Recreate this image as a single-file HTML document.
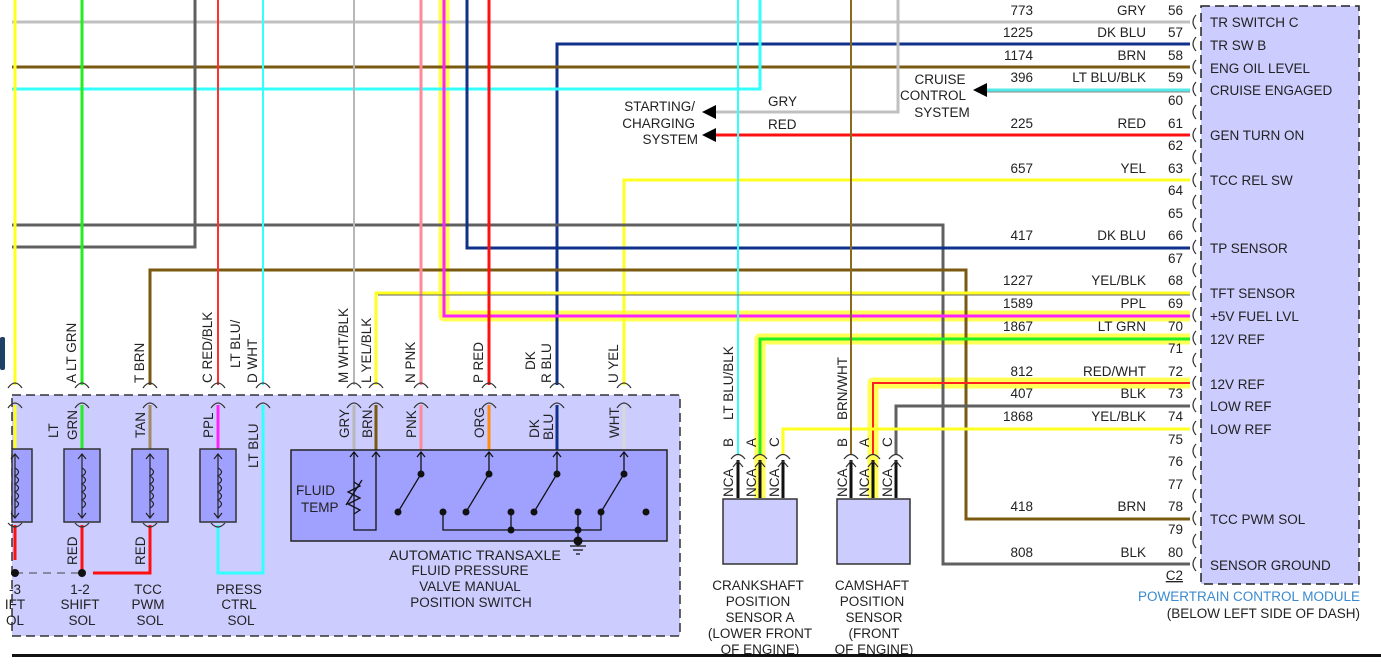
<!DOCTYPE html>
<html><head><meta charset="utf-8"><style>
html,body{margin:0;padding:0;background:#fff;}
svg{display:block;font-family:"Liberation Sans",Arial,sans-serif;font-size:13.5px;fill:#222;}
</style></head><body>
<svg width="1381" height="665" viewBox="0 0 1381 665" xmlns="http://www.w3.org/2000/svg">
<!-- boxes -->
<rect x="12" y="395" width="668" height="241" fill="#ccccff" stroke="#333" stroke-width="1.5" stroke-dasharray="9,5"/>
<rect x="1201" y="6" width="158" height="578" fill="#ccccff" stroke="#222" stroke-width="1.5" stroke-dasharray="9,5"/>
<rect x="0" y="337" width="5" height="33" rx="2" fill="#1e3f66"/>

<!-- yellow highlights -->
<g fill="none" stroke="#ffff55" stroke-width="11" stroke-linejoin="round">
<path d="M444,0 V316 H1190"/>
<path d="M760,498 V339 H1190"/>
<path d="M873,498 V383 H1190"/>
</g>

<!-- wires -->
<g fill="none" stroke-width="3">
<path d="M12,22 H1190" stroke="#c0c0c0"/>
<path d="M557,385 V44 H1190" stroke="#10308a"/>
<path d="M12,67 H1190" stroke="#7a5a10"/>
<path d="M12,89 H760 V0" stroke="#33ffff"/>
<path d="M898,0 V112 H712" stroke="#c0c0c0"/>
<path d="M712,135 H1190" stroke="#ff1010"/>
<path d="M986,90 H1190" stroke="#55e8e8"/>
<path d="M624,385 V180 H1190" stroke="#ffff22"/>
<path d="M12,225 H943 V564 H1190" stroke="#606060"/>
<path d="M12,247 H195 V0" stroke="#606060"/>
<path d="M467,0 V248 H1190" stroke="#10308a"/>
<path d="M150,385 V270 H966 V519 H1190" stroke="#7a5a10"/>
<path d="M376,385 V293 H1190" stroke="#ffff22"/>
<path d="M444,0 V316 H1190" stroke="#ff22ff"/>
<path d="M760,455 V339 H1190" stroke="#22ee22"/>
<path d="M873,455 V383 H1190" stroke="#ff2020" stroke-width="2"/>
<path d="M896,455 V406 H1190" stroke="#606060"/>
<path d="M783,455 V429 H1190" stroke="#ffff22"/>
<path d="M15,0 V385" stroke="#ffff22"/>
<path d="M82,0 V385" stroke="#22ee22"/>
<path d="M218,0 V385" stroke="#ff3030" stroke-width="2"/>
<path d="M263,0 V385" stroke="#33ffff" stroke-width="2"/>
<path d="M354,0 V385" stroke="#b8b8b8" stroke-width="2"/>
<path d="M421,0 V385" stroke="#ff8899"/>
<path d="M489,0 V385" stroke="#ff1010"/>
<path d="M738,0 V455" stroke="#33ffff" stroke-width="2"/>
<path d="M851,0 V455" stroke="#8a6a20" stroke-width="2"/>
</g>
<g fill="none" stroke-width="1">
<path d="M986,92 H1190" stroke="#888"/>
<path d="M378,295 H1190" stroke="#666"/>
</g>
<g fill="none" stroke-width="3">
<path d="M15,405 V450" stroke="#ffff22"/>
<path d="M82,405 V450" stroke="#22ee22"/>
<path d="M150,405 V450" stroke="#a08a60"/>
<path d="M218,405 V450" stroke="#ff22ff"/>
<path d="M263,405 V573 H218 V525" stroke="#33ffff"/>
<path d="M354,405 V452" stroke="#b8b8b8"/>
<path d="M376,405 V452" stroke="#7a5a10"/>
<path d="M421,405 V452" stroke="#ff8899"/>
<path d="M489,405 V452" stroke="#ff8c10"/>
<path d="M557,405 V452" stroke="#10308a"/>
<path d="M624,405 V452" stroke="#d8d8d8"/>
<path d="M15,525 V560" stroke="#ff1010"/>
<path d="M82,525 V570" stroke="#ff1010"/>
<path d="M93,573 H150 V525" stroke="#ff1010"/>
</g>
<path d="M15,573 H82" stroke="#444" stroke-width="1" stroke-dasharray="8,6"/>
<circle cx="15" cy="573" r="4" fill="#111"/><circle cx="82" cy="573" r="4" fill="#111"/>

<!-- connectors -->
<g fill="none" stroke="#333" stroke-width="1.2">
<path d="M8,388 Q15,378 22,388 M75,388 Q82,378 89,388 M143,388 Q150,378 157,388 M211,388 Q218,378 225,388 M256,388 Q263,378 270,388 M347,388 Q354,378 361,388 M369,388 Q376,378 383,388 M414,388 Q421,378 428,388 M482,388 Q489,378 496,388 M550,388 Q557,378 564,388 M617,388 Q624,378 631,388"/>
<path d="M8,408 Q15,398 22,408 M75,408 Q82,398 89,408 M143,408 Q150,398 157,408 M211,408 Q218,398 225,408 M256,408 Q263,398 270,408 M347,408 Q354,398 361,408 M369,408 Q376,398 383,408 M414,408 Q421,398 428,408 M482,408 Q489,398 496,408 M550,408 Q557,398 564,408 M617,408 Q624,398 631,408"/>
<path d="M8,523 Q15,531 22,523 M75,523 Q82,531 89,523 M143,523 Q150,531 157,523 M211,523 Q218,531 225,523"/>
</g>

<!-- solenoids -->
<g stroke="#333" stroke-width="1.5" fill="#a0a0ff">
<rect x="12" y="449" width="20" height="73"/>
<rect x="64" y="449" width="36" height="73"/>
<rect x="132" y="449" width="36" height="73"/>
<rect x="200" y="449" width="36" height="73"/>
</g>
<g fill="none" stroke="#222" stroke-width="1.2">
<path d="M15,454 V518 M82,454 V518 M150,454 V518 M218,454 V518"/>
<path d="M11,459 L15,454 L19,459 M11,513 L15,518 L19,513 M78,459 L82,454 L86,459 M78,513 L82,518 L86,513 M146,459 L150,454 L154,459 M146,513 L150,518 L154,513 M214,459 L218,454 L222,459 M214,513 L218,518 L222,513"/>
<path d="M15,468 q7,4 0,8 q7,4 0,8 q7,4 0,8 q7,4 0,8 q7,4 0,8 M82,468 q7,4 0,8 q7,4 0,8 q7,4 0,8 q7,4 0,8 q7,4 0,8 M150,468 q7,4 0,8 q7,4 0,8 q7,4 0,8 q7,4 0,8 q7,4 0,8 M218,468 q7,4 0,8 q7,4 0,8 q7,4 0,8 q7,4 0,8 q7,4 0,8"/>
</g>

<!-- switch box -->
<rect x="291" y="450" width="376" height="91" fill="#a0a0ff" stroke="#222" stroke-width="1.5"/>
<g fill="none" stroke="#111" stroke-width="1.3">
<path d="M354,452 V530 H376 V452"/>
<path d="M350,457 L354,452 L358,457 M372,457 L376,452 L380,457 M417,457 L421,452 L425,457 M485,457 L489,452 L493,457 M553,457 L557,452 L561,457 M620,457 L624,452 L628,457"/>
<path d="M354,482 l6,4 l-12,6 l12,6 l-12,6 l12,6 l-6,4"/>
<path d="M346,505 L362,480"/>
<path d="M421,452 V474 L398,512 M489,452 V474 L466,512 M557,452 V474 L534,512 M624,452 V474 L601,512"/>
<path d="M443,512 V530 H601 V512 M511,512 V530 M578,512 V541"/>
<path d="M578,541 V546 M570,546 H586 M573,550 H583 M576,554 H580"/>
</g>
<g fill="#111">
<circle cx="421" cy="474" r="3.5"/><circle cx="489" cy="474" r="3.5"/><circle cx="557" cy="474" r="3.5"/><circle cx="624" cy="474" r="3.5"/>
<circle cx="398" cy="512" r="3.5"/><circle cx="466" cy="512" r="3.5"/><circle cx="534" cy="512" r="3.5"/><circle cx="601" cy="512" r="3.5"/>
<circle cx="443" cy="512" r="3.5"/><circle cx="511" cy="512" r="3.5"/><circle cx="578" cy="512" r="3.5"/><circle cx="646" cy="512" r="3.5"/>
<circle cx="511" cy="530" r="3.5"/><circle cx="578" cy="530" r="3.5"/><circle cx="578" cy="541" r="4.5"/>
</g>
<text x="296" y="495">FLUID</text><text x="301" y="512">TEMP</text>
<g text-anchor="middle">
<text x="475" y="560" textLength="172" lengthAdjust="spacingAndGlyphs">AUTOMATIC TRANSAXLE</text>
<text x="470" y="575">FLUID PRESSURE</text>
<text x="470" y="591">VALVE MANUAL</text>
<text x="471" y="607">POSITION SWITCH</text>
<text x="15" y="594">-3</text><text x="15" y="609">IFT</text><text x="15" y="625">OL</text>
<text x="80" y="594">1-2</text><text x="80" y="609">SHIFT</text><text x="82" y="625">SOL</text>
<text x="148" y="594">TCC</text><text x="148" y="609">PWM</text><text x="150" y="625">SOL</text>
<text x="239" y="594">PRESS</text><text x="239" y="609">CTRL</text><text x="241" y="625">SOL</text>
<text x="758" y="590">CRANKSHAFT</text><text x="758" y="606">POSITION</text><text x="760" y="622">SENSOR A</text><text x="760" y="638">(LOWER FRONT</text><text x="760" y="654">OF ENGINE)</text>
<text x="872" y="590">CAMSHAFT</text><text x="872" y="606">POSITION</text><text x="874" y="622">SENSOR</text><text x="874" y="638">(FRONT</text><text x="874" y="654">OF ENGINE)</text>
<text x="940" y="84">CRUISE</text><text x="933" y="100">CONTROL</text><text x="942" y="117">SYSTEM</text>
</g>
<g text-anchor="end">
<text x="695" y="111">STARTING/</text><text x="695" y="128">CHARGING</text><text x="698" y="144">SYSTEM</text>
</g>
<text x="768" y="106">GRY</text><text x="768" y="129">RED</text>
<path d="M702,112 L716,105 L716,119 Z M702,135 L716,128 L716,142 Z M973,90 L987,83 L987,97 Z" fill="#000"/>

<!-- rotated labels -->
<g xml:space="preserve" style="white-space:pre">
<text transform="translate(76,383) rotate(-90)">A   LT GRN</text>
<text transform="translate(144,383) rotate(-90)">T   BRN</text>
<text transform="translate(212,383) rotate(-90)">C   RED/BLK</text>
<text transform="translate(240,368) rotate(-90)">LT BLU/</text>
<text transform="translate(257,383) rotate(-90)">D   WHT</text>
<text transform="translate(348,383) rotate(-90)">M   WHT/BLK</text>
<text transform="translate(371,383) rotate(-90)">L   YEL/BLK</text>
<text transform="translate(415,383) rotate(-90)">N   PNK</text>
<text transform="translate(483,383) rotate(-90)">P   RED</text>
<text transform="translate(535,370) rotate(-90)">DK</text>
<text transform="translate(551,383) rotate(-90)">R   BLU</text>
<text transform="translate(618,383) rotate(-90)">U   YEL</text>
<text transform="translate(58,438) rotate(-90)">LT</text>
<text transform="translate(77,440) rotate(-90)">GRN</text>
<text transform="translate(145,438) rotate(-90)">TAN</text>
<text transform="translate(213,438) rotate(-90)">PPL</text>
<text transform="translate(258,468) rotate(-90)">LT BLU</text>
<text transform="translate(349,438) rotate(-90)">GRY</text>
<text transform="translate(372,438) rotate(-90)">BRN</text>
<text transform="translate(416,438) rotate(-90)">PNK</text>
<text transform="translate(484,438) rotate(-90)">ORG</text>
<text transform="translate(539,438) rotate(-90)">DK</text>
<text transform="translate(553,440) rotate(-90)">BLU</text>
<text transform="translate(619,438) rotate(-90)">WHT</text>
<text transform="translate(77,565) rotate(-90)">RED</text>
<text transform="translate(145,565) rotate(-90)">RED</text>
<text transform="translate(733,420) rotate(-90)">LT BLU/BLK</text>
<text transform="translate(847,420) rotate(-90)">BRN/WHT</text>
<text transform="translate(733,447) rotate(-90)">B</text>
<text transform="translate(756,447) rotate(-90)">A</text>
<text transform="translate(779,447) rotate(-90)">C</text>
<text transform="translate(847,447) rotate(-90)">B</text>
<text transform="translate(869,447) rotate(-90)">A</text>
<text transform="translate(892,447) rotate(-90)">C</text>
<text transform="translate(733,497) rotate(-90)">NCA</text>
<text transform="translate(756,497) rotate(-90)">NCA</text>
<text transform="translate(779,497) rotate(-90)">NCA</text>
<text transform="translate(847,497) rotate(-90)">NCA</text>
<text transform="translate(869,497) rotate(-90)">NCA</text>
<text transform="translate(892,497) rotate(-90)">NCA</text>
</g>

<!-- sensors -->
<g fill="none" stroke="#111" stroke-width="3">
<path d="M738,460 V498 M760,460 V498 M783,460 V498 M851,460 V498 M873,460 V498 M896,460 V498"/>
</g>
<g fill="none" stroke="#333" stroke-width="1.2">
<path d="M731,459 Q738,450 745,459 M753,459 Q760,450 767,459 M776,459 Q783,450 790,459 M844,459 Q851,450 858,459 M866,459 Q873,450 880,459 M889,459 Q896,450 903,459"/>
<path d="M733,467 L738,461 L743,467 M755,467 L760,461 L765,467 M778,467 L783,461 L788,467 M846,467 L851,461 L856,467 M868,467 L873,461 L878,467 M891,467 L896,461 L901,467"/>
</g>
<rect x="723" y="499" width="74" height="65" fill="#ccccff" stroke="#333" stroke-width="1.5"/>
<rect x="837" y="499" width="73" height="65" fill="#ccccff" stroke="#333" stroke-width="1.5"/>

<!-- PCM connectors -->
<g fill="none" stroke="#333" stroke-width="1.2">
<path d="M1196,15 q-6,7 0,14 M1196,37 q-6,7 0,14 M1196,60 q-6,7 0,14 M1196,82 q-6,7 0,14 M1196,105 q-6,7 0,14 M1196,128 q-6,7 0,14 M1196,150 q-6,7 0,14 M1196,173 q-6,7 0,14 M1196,195 q-6,7 0,14 M1196,218 q-6,7 0,14 M1196,240 q-6,7 0,14 M1196,263 q-6,7 0,14 M1196,286 q-6,7 0,14 M1196,308 q-6,7 0,14 M1196,331 q-6,7 0,14 M1196,353 q-6,7 0,14 M1196,376 q-6,7 0,14 M1196,398 q-6,7 0,14 M1196,421 q-6,7 0,14 M1196,444 q-6,7 0,14 M1196,466 q-6,7 0,14 M1196,489 q-6,7 0,14 M1196,511 q-6,7 0,14 M1196,534 q-6,7 0,14 M1196,557 q-6,7 0,14"/>
</g>
<g text-anchor="end">
<text x="1183" y="15">56</text><text x="1183" y="37">57</text><text x="1183" y="60">58</text><text x="1183" y="82">59</text><text x="1183" y="105">60</text><text x="1183" y="128">61</text><text x="1183" y="150">62</text><text x="1183" y="173">63</text><text x="1183" y="195">64</text><text x="1183" y="218">65</text><text x="1183" y="240">66</text><text x="1183" y="263">67</text><text x="1183" y="285">68</text><text x="1183" y="308">69</text><text x="1183" y="331">70</text><text x="1183" y="353">71</text><text x="1183" y="376">72</text><text x="1183" y="398">73</text><text x="1183" y="421">74</text><text x="1183" y="444">75</text><text x="1183" y="466">76</text><text x="1183" y="489">77</text><text x="1183" y="511">78</text><text x="1183" y="534">79</text><text x="1183" y="557">80</text>
<text x="1033" y="15">773</text><text x="1146" y="15">GRY</text>
<text x="1033" y="37">1225</text><text x="1146" y="37">DK BLU</text>
<text x="1033" y="60">1174</text><text x="1146" y="60">BRN</text>
<text x="1033" y="82">396</text><text x="1146" y="82">LT BLU/BLK</text>
<text x="1033" y="128">225</text><text x="1146" y="128">RED</text>
<text x="1033" y="173">657</text><text x="1146" y="173">YEL</text>
<text x="1033" y="240">417</text><text x="1146" y="240">DK BLU</text>
<text x="1033" y="285">1227</text><text x="1146" y="285">YEL/BLK</text>
<text x="1033" y="308">1589</text><text x="1146" y="308">PPL</text>
<text x="1033" y="331">1867</text><text x="1146" y="331">LT GRN</text>
<text x="1033" y="376">812</text><text x="1146" y="376">RED/WHT</text>
<text x="1033" y="398">407</text><text x="1146" y="398">BLK</text>
<text x="1033" y="421">1868</text><text x="1146" y="421">YEL/BLK</text>
<text x="1033" y="511">418</text><text x="1146" y="511">BRN</text>
<text x="1033" y="557">808</text><text x="1146" y="557">BLK</text>
<text x="1183" y="580" text-decoration="underline">C2</text>
<text x="1360" y="601" style="fill:#3a8ad0">POWERTRAIN CONTROL MODULE</text>
<text x="1360" y="618">(BELOW LEFT SIDE OF DASH)</text>
</g>
<g>
<text x="1210" y="27">TR SWITCH C</text><text x="1210" y="50">TR SW B</text><text x="1210" y="73">ENG OIL LEVEL</text><text x="1210" y="95">CRUISE ENGAGED</text><text x="1210" y="140">GEN TURN ON</text><text x="1210" y="185">TCC REL SW</text><text x="1210" y="253">TP SENSOR</text><text x="1210" y="298">TFT SENSOR</text><text x="1210" y="321">+5V FUEL LVL</text><text x="1210" y="344">12V REF</text><text x="1210" y="389">12V REF</text><text x="1210" y="411">LOW REF</text><text x="1210" y="434">LOW REF</text><text x="1210" y="524">TCC PWM SOL</text><text x="1210" y="570">SENSOR GROUND</text>
</g>
<rect x="12" y="654" width="1369" height="3" fill="#111"/>
</svg>
</body></html>
